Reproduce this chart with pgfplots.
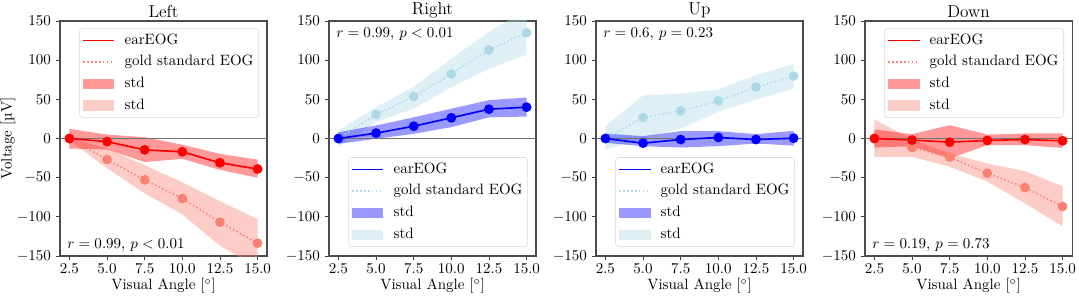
\documentclass[border=0pt]{standalone}
\usepackage{pgfplots}
\pgfplotsset{compat=1.18}
\definecolor{mysalmon}{HTML}{FA8072}
\definecolor{mylightblue}{HTML}{ADD8E6}
\definecolor{myred}{RGB}{255,0,0}
\definecolor{myblue}{RGB}{0,0,255}
\pgfplotsset{
  panel/.style={
    scale only axis, width=138pt, height=156.67pt,
    xmin=1.875, xmax=15.625, ymin=-150, ymax=150,
    xtick={2.5,5,7.5,10,12.5,15}, ytick={-150,-100,-50,0,50,100,150},
    xticklabel style={yshift=1pt, /pgf/number format/.cd, fixed, fixed zerofill, precision=1},
    tick align=outside, tick pos=left, major tick length=2.5pt,
    axis line style={black!70, line width=0.7pt},
    every tick/.style={black!75, line width=0.5pt},
    xlabel={Visual Angle [$^\circ$]},
    xlabel style={yshift=3.3pt},
    ylabel style={yshift=-6pt},
    title style={font=\fontsize{11.5}{13}\selectfont, yshift=-7.5pt},
    tick label style={font=\fontsize{10}{12}\selectfont},
    label style={font=\fontsize{10}{12}\selectfont},
    legend cell align=left,
    legend style={font=\fontsize{10}{12}\selectfont, draw=black!15, rounded corners=2pt,
      fill=white, fill opacity=0.8, text opacity=1, inner xsep=2pt, inner ysep=2pt,
      row sep=2.5pt, nodes={inner sep=1.5pt, text height=7pt, text depth=2pt}},
    legend image code/.code={\draw[#1, sharp corners] (0pt,0pt) -- (20.7pt,0pt); \path[draw=none, fill=none] (0pt,0pt) -- (26pt,0pt);},
  },
  myarea/.style={legend image code/.code={\path[#1, draw=none, sharp corners] (0pt,-3.4pt) rectangle (20.7pt,3.4pt); \path[draw=none, fill=none] (0pt,0pt) -- (26pt,0pt);}},
  legUR/.style={legend style={at={(1,1)}, anchor=north east, xshift=-5.3pt, yshift=-4.7pt}},
  legLR/.style={legend style={at={(1,0)}, anchor=south east, xshift=-5.3pt, yshift=6pt}},
  ear/.style={line width=1.1pt, mark=*, mark size=2.7pt, forget plot},
  gold/.style={line width=1pt, dash pattern=on 1pt off 1.6pt, mark=*, mark size=2.7pt, mark options={solid}, forget plot},
  golddash/.style={line width=1pt, dash pattern=on 1pt off 1.6pt},
  zero/.style={black!55, line width=0.9pt, forget plot},
}
\newcommand{\annot}{\fontsize{10}{12}\selectfont}
\begin{document}
\begin{tikzpicture}
\path[use as bounding box] (-40pt,-26.67pt) rectangle (679.33pt,170.67pt);

% ---------------- Left
\begin{axis}[panel, at={(0pt,0pt)}, anchor=south west, title={Left}, ylabel={Voltage [\textmu V]}, legUR]
\addplot[fill=mysalmon, fill opacity=0.4, draw=none, forget plot] coordinates {
(2.5,1) (5,-13) (7.5,-34) (10,-56) (12.5,-80) (15,-103)
(15,-165) (12.5,-137) (10,-97) (7.5,-70) (5,-38) (2.5,-2)};
\addplot[fill=myred, fill opacity=0.4, draw=none, forget plot] coordinates {
(2.5,12.3) (5,5) (7.5,1.7) (10,-8) (12.5,-19.6) (15,-27)
(15,-50) (12.5,-40) (10,-26) (7.5,-30) (5,-14) (2.5,-12.8)};
\addplot[zero] coordinates {(1.875,0) (15.625,0)};
\addplot[gold, mysalmon] coordinates {(2.5,0) (5,-26.8) (7.5,-52.8) (10,-76.6) (12.5,-106.8) (15,-133.6)};
\addplot[ear, myred] coordinates {(2.5,0) (5,-4) (7.5,-14.5) (10,-17) (12.5,-31) (15,-39)};
\addlegendimage{draw=myred, line width=1.1pt}\addlegendentry{earEOG}
\addlegendimage{draw=mysalmon, golddash}\addlegendentry{gold standard EOG}
\addlegendimage{myarea, fill=myred, fill opacity=0.4}\addlegendentry{std}
\addlegendimage{myarea, fill=mysalmon, fill opacity=0.4}\addlegendentry{std}
\node[anchor=south west, inner sep=0pt, font=\annot] at (rel axis cs:0.034,0.017) {$r=0.99$, $p<0.01$};
\end{axis}

% ---------------- Right
\begin{axis}[panel, at={(179.33pt,0pt)}, anchor=south west, title={Right}, legLR]
\addplot[fill=mylightblue, fill opacity=0.4, draw=none, forget plot] coordinates {
(2.5,10) (5,40) (7.5,66) (10,101.7) (12.5,136) (15,165)
(15,107) (12.5,89) (10,65.5) (7.5,38) (5,21) (2.5,-11)};
\addplot[fill=myblue, fill opacity=0.4, draw=none, forget plot] coordinates {
(2.5,8) (5,16.6) (7.5,27) (10,38) (12.5,49) (15,52.3)
(15,28) (12.5,27) (10,14.5) (7.5,6) (5,-0.4) (2.5,-6.8)};
\addplot[zero] coordinates {(1.875,0) (15.625,0)};
\addplot[gold, mylightblue] coordinates {(2.5,0) (5,30.6) (7.5,53.6) (10,82.5) (12.5,113) (15,135)};
\addplot[ear, myblue] coordinates {(2.5,0) (5,6.8) (7.5,15.7) (10,26.4) (12.5,37.4) (15,40)};
\addlegendimage{draw=myblue, line width=1.1pt}\addlegendentry{earEOG}
\addlegendimage{draw=mylightblue, golddash}\addlegendentry{gold standard EOG}
\addlegendimage{myarea, fill=myblue, fill opacity=0.4}\addlegendentry{std}
\addlegendimage{myarea, fill=mylightblue, fill opacity=0.4}\addlegendentry{std}
\node[anchor=north west, inner sep=0pt, font=\annot] at (rel axis cs:0.034,0.974) {$r=0.99$, $p<0.01$};
\end{axis}

% ---------------- Up
\begin{axis}[panel, at={(357.33pt,0pt)}, anchor=south west, title={Up}, legLR]
\addplot[fill=mylightblue, fill opacity=0.4, draw=none, forget plot] coordinates {
(2.5,15.7) (5,55) (7.5,57.4) (10,62.5) (12.5,81) (15,95)
(15,63.8) (12.5,49.8) (10,34) (7.5,12.8) (5,0) (2.5,-14)};
\addplot[fill=myblue, fill opacity=0.4, draw=none, forget plot] coordinates {
(2.5,6.4) (5,3) (7.5,9.4) (10,9.4) (12.5,5.5) (15,9.8)
(15,-9) (12.5,-6.4) (10,-9.8) (7.5,-11.5) (5,-9.8) (2.5,-5.5)};
\addplot[zero] coordinates {(1.875,0) (15.625,0)};
\addplot[gold, mylightblue] coordinates {(2.5,0) (5,26.8) (7.5,35.3) (10,48) (12.5,65.5) (15,79.6)};
\addplot[ear, myblue] coordinates {(2.5,0) (5,-6) (7.5,-1.3) (10,1.3) (12.5,-1.3) (15,0.4)};
\addlegendimage{draw=myblue, line width=1.1pt}\addlegendentry{earEOG}
\addlegendimage{draw=mylightblue, golddash}\addlegendentry{gold standard EOG}
\addlegendimage{myarea, fill=myblue, fill opacity=0.4}\addlegendentry{std}
\addlegendimage{myarea, fill=mylightblue, fill opacity=0.4}\addlegendentry{std}
\node[anchor=north west, inner sep=0pt, font=\annot] at (rel axis cs:0.034,0.974) {$r=0.6$, $p=0.23$};
\end{axis}

% ---------------- Down
\begin{axis}[panel, at={(536.67pt,0pt)}, anchor=south west, title={Down}, legUR]
\addplot[fill=mysalmon, fill opacity=0.4, draw=none, forget plot] coordinates {
(2.5,24.3) (5,-1.3) (7.5,-19) (10,-32) (12.5,-41.7) (15,-61)
(15,-112) (12.5,-83) (10,-55) (7.5,-36) (5,-23.4) (2.5,-23.4)};
\addplot[fill=myred, fill opacity=0.4, draw=none, forget plot] coordinates {
(2.5,11.5) (5,5.5) (7.5,17) (10,5) (12.5,6.4) (15,6.4)
(15,-12) (12.5,-8.5) (10,-8.5) (7.5,-25.5) (5,-9.8) (2.5,-11.5)};
\addplot[zero] coordinates {(1.875,0) (15.625,0)};
\addplot[gold, mysalmon] coordinates {(2.5,0) (5,-11.5) (7.5,-23.8) (10,-44.3) (12.5,-62.6) (15,-86.8)};
\addplot[ear, myred] coordinates {(2.5,0) (5,-2) (7.5,-4.7) (10,-2.5) (12.5,-1.3) (15,-3)};
\addlegendimage{draw=myred, line width=1.1pt}\addlegendentry{earEOG}
\addlegendimage{draw=mysalmon, golddash}\addlegendentry{gold standard EOG}
\addlegendimage{myarea, fill=myred, fill opacity=0.4}\addlegendentry{std}
\addlegendimage{myarea, fill=mysalmon, fill opacity=0.4}\addlegendentry{std}
\node[anchor=south west, inner sep=0pt, font=\annot] at (rel axis cs:0.034,0.017) {$r=0.19$, $p=0.73$};
\end{axis}
\end{tikzpicture}
\end{document}
